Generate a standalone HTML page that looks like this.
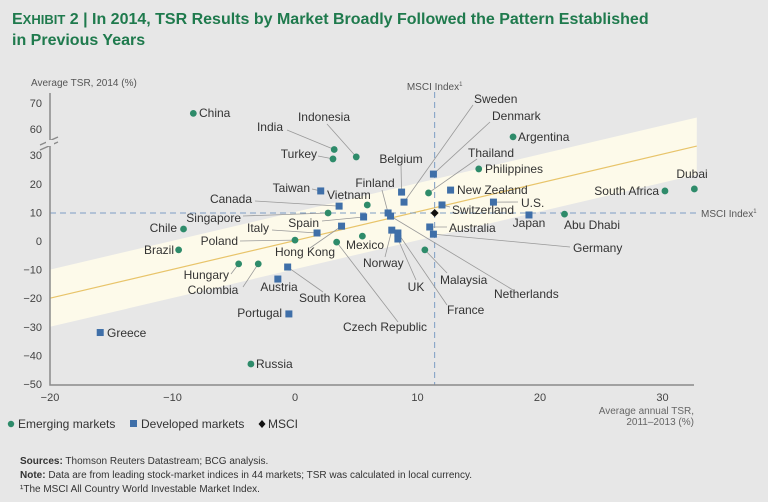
<!DOCTYPE html>
<html><head><meta charset="utf-8">
<style>
html,body{margin:0;padding:0;background:#e7e7e7;}
body{width:768px;height:502px;overflow:hidden;position:relative;font-family:"Liberation Sans",sans-serif;}
svg{position:absolute;left:0;top:0;}
</style></head>
<body>
<svg id="chart" width="768" height="502" viewBox="0 0 768 502">
  <text x="12" y="24" font-size="16" font-weight="bold" fill="#1f7a4d">E<tspan font-size="13">XHIBIT</tspan> 2 | In 2014, TSR Results by Market Broadly Followed the Pattern Established</text>
  <text x="12" y="45" font-size="16" font-weight="bold" fill="#1f7a4d">in Previous Years</text>
  <text x="31" y="86" font-size="10" fill="#555" font-family="Liberation Sans Narrow, Liberation Sans, sans-serif">Average TSR, 2014 (%)</text>
  <text x="694" y="414" font-size="10" fill="#666" text-anchor="end" font-family="Liberation Sans Narrow, Liberation Sans, sans-serif">Average annual TSR,</text>
  <text x="694" y="425" font-size="10" fill="#666" text-anchor="end" font-family="Liberation Sans Narrow, Liberation Sans, sans-serif">2011–2013 (%)</text>
  <g>
    <circle cx="11" cy="424" r="3.2" fill="#2e8b6a"/>
    <text x="18" y="428" font-size="12" fill="#333">Emerging markets</text>
    <rect x="130" y="420" width="7" height="7" fill="#3f6fa8"/>
    <text x="141" y="428" font-size="12" fill="#333">Developed markets</text>
    <path d="M262 420 L265.5 424 L262 428 L258.5 424Z" fill="#111"/>
    <text x="268" y="428" font-size="12" fill="#333">MSCI</text>
  </g>
  <g font-size="10" fill="#333" font-family="Liberation Sans Narrow, Liberation Sans, sans-serif">
    <text x="20" y="464"><tspan font-weight="bold">Sources:</tspan> Thomson Reuters Datastream; BCG analysis.</text>
    <text x="20" y="478"><tspan font-weight="bold">Note:</tspan> Data are from leading stock-market indices in 44 markets; TSR was calculated in local currency.</text>
    <text x="20" y="492">¹The MSCI All Country World Investable Market Index.</text>
  </g>
  <g id="plot"></g>
</svg>
<script>
const markets = ["China","India","Indonesia","Turkey","Taiwan","Canada","Vietnam","Singapore","Spain","Hong Kong","Italy","Poland","Mexico","Czech Republic","Chile","Brazil","Hungary","Colombia","South Korea","Austria","Portugal","Greece","Russia","Denmark","Sweden","Belgium","Thailand","Finland","Netherlands","Norway","UK","France","Malaysia","Australia","Germany","Switzerland","New Zealand","Philippines","Argentina","U.S.","Japan","Abu Dhabi","South Africa","Dubai"];
const tsr2011to2013 = [-8.3,3.2,5.0,3.1,2.1,3.6,5.9,2.7,5.6,3.8,1.8,0.0,5.5,3.4,-9.1,-9.5,-4.6,-3.0,-0.6,-1.4,-0.5,-15.9,-3.6,11.3,8.9,8.7,10.9,7.6,7.8,7.9,8.4,8.4,10.6,11.0,11.3,12.0,12.7,15.0,17.8,16.2,19.1,22.0,30.2,32.6];
const tsr2014 = [66,32,29.4,28.7,17.5,12.2,12.6,9.8,8.4,5.2,2.8,0.3,1.7,-0.4,4.2,-3.1,-8,-8,-9.1,-13.3,-25.5,-32,-43,23.4,13.6,17.1,16.8,9.8,8.7,3.8,0.7,2.8,-3.1,4.9,2.4,12.6,17.8,25.2,36.4,13.6,9.1,9.4,17.5,18.2];
const marketType = ["E","E","E","E","D","D","E","E","D","D","D","E","E","E","E","E","E","E","D","D","D","D","E","D","D","D","E","D","D","D","D","D","E","D","D","D","D","E","E","D","D","E","E","E"];
const msciPoint = [11.4, 9.8];
const trendLine = [[-20,-20],[32.8,33.2]];
const bandHalfWidth = 10;
const xTicks = [-20,-10,0,10,20,30];
const yTicks = [-50,-40,-30,-20,-10,0,10,20,30,60,70];
// label layout (pixel positions): [text x, text y, anchor, leader x, leader y] (leader null = none)
const labelLayout = {
 "China":[199,117,"start"],"India":[283,131,"end",287,130],"Indonesia":[324,121,"middle",327,124],
 "Turkey":[317,158,"end",318,156],"Taiwan":[310,192,"end",312,189],"Canada":[252,203,"end",255,201],
 "Vietnam":[327,199,"start"],"Singapore":[241,222,"end",243,216],"Spain":[319,227,"end",322,221],
 "Hong Kong":[305,256,"middle",310,248],"Italy":[269,232,"end",272,230],"Poland":[238,245,"end",240,241],
 "Mexico":[346,249,"start"],"Czech Republic":[343,331,"start",398,322],"Chile":[177,232,"end"],
 "Brazil":[174,254,"end"],"Hungary":[229,279,"end",231,274],"Colombia":[213,294,"middle",243,287],
 "South Korea":[299,302,"start",323,292],"Austria":[279,291,"middle"],"Portugal":[282,317,"end"],
 "Greece":[107,337,"start"],"Russia":[256,368,"start"],"Denmark":[492,120,"start",490,122],
 "Sweden":[474,103,"start",473,105],"Belgium":[401,163,"middle",401,165],"Thailand":[468,157,"start",477,159],
 "Finland":[375,187,"middle",382,190],"Netherlands":[494,298,"start",513,290],"Norway":[363,267,"start",385,257],
 "UK":[416,291,"middle",416,280],"France":[447,314,"start",447,305],"Malaysia":[440,284,"start",447,273],
 "Australia":[449,232,"start",447,227],"Germany":[573,252,"start",570,247],"Switzerland":[452,214,"start",450,207],
 "New Zealand":[457,194,"start"],"Philippines":[485,173,"start"],"Argentina":[518,141,"start"],
 "U.S.":[521,207,"start",518,202],"Japan":[529,227,"middle"],"Abu Dhabi":[592,229,"middle"],
 "South Africa":[659,195,"end"],"Dubai":[692,178,"middle"]
};
const X0=50, X1=694, Ybot=385;
function xs(v){return 295+12.25*v;}
function ys(v){return v>=45 ? 129-(v-60)*2.6 : 241-2.86*v;}
const NS="http://www.w3.org/2000/svg";
const plot=document.getElementById('plot');
function mk(tag,attrs,parent){const e=document.createElementNS(NS,tag);for(const k in attrs)e.setAttribute(k,attrs[k]);(parent||plot).appendChild(e);return e;}
// band
const [p0,p1]=trendLine;
const band=mk('polygon',{points:`${xs(p0[0])},${ys(p0[1]+bandHalfWidth)} ${xs(p1[0])},${ys(p1[1]+bandHalfWidth)} ${xs(p1[0])},${ys(p1[1]-bandHalfWidth)} ${xs(p0[0])},${ys(p0[1]-bandHalfWidth)}`,fill:'#fdfaea'});


const tl=mk('line',{x1:xs(p0[0]),y1:ys(p0[1]),x2:xs(p1[0]),y2:ys(p1[1]),stroke:'#e8c46a','stroke-width':1.2});


// msci lines
const vl=mk('line',{x1:xs(msciPoint[0]),y1:92,x2:xs(msciPoint[0]),y2:Ybot,stroke:'#7d9dc4','stroke-dasharray':'6,4','stroke-width':1});


const hl=mk('line',{x1:X0,y1:ys(msciPoint[1]),x2:698,y2:ys(msciPoint[1]),stroke:'#7d9dc4','stroke-dasharray':'6,4','stroke-width':1});


const mv=mk('text',{x:xs(msciPoint[0]),y:90,'font-size':10,fill:'#555','text-anchor':'middle','font-family':'Liberation Sans Narrow, Liberation Sans, sans-serif'});
mv.innerHTML='MSCI Index<tspan font-size="6" dy="-4">1</tspan>';


const mh=mk('text',{x:701,y:ys(msciPoint[1])+4,'font-size':10,fill:'#555','font-family':'Liberation Sans Narrow, Liberation Sans, sans-serif'});
mh.innerHTML='MSCI Index<tspan font-size="6" dy="-4">1</tspan>';


// axes
const ya=mk('path',{d:`M${X0} 93 V${Ybot} H${X1}`,fill:'none',stroke:'#8a8a8a','stroke-width':1.5});


const br=mk('path',{d:'M40 145 L58 137 M40 150 L58 142',stroke:'#8a8a8a','stroke-width':1.3});


mk('rect',{x:46,y:140,width:8,height:6,fill:'#e7e7e7'});
yTicks.forEach(t=>{const e=mk('text',{x:42,y:ys(t)+4,'font-size':11,fill:'#444','text-anchor':'end'});e.textContent=String(t).replace('-','−');

});
xTicks.forEach(t=>{const e=mk('text',{x:xs(t),y:Ybot+16,'font-size':11,fill:'#444','text-anchor':'middle'});e.textContent=String(t).replace('-','−');

});
// leaders, points, labels
markets.forEach((m,i)=>{
  const px=xs(tsr2011to2013[i]),py=ys(tsr2014[i]);const L=labelLayout[m];
  if(L&&L.length>3){const ld=mk('line',{x1:L[3],y1:L[4],x2:px,y2:py,stroke:'#999','stroke-width':0.8});
  
  }
});
markets.forEach((m,i)=>{
  const px=xs(tsr2011to2013[i]),py=ys(tsr2014[i]);let e;
  if(marketType[i]==="E"){e=mk('circle',{cx:px,cy:py,r:3.4,fill:'#2e8b6a'});}
  else{e=mk('rect',{x:px-3.5,y:py-3.5,width:7,height:7,fill:'#3f6fa8'});}
  
  
  const L=labelLayout[m];
  const t=mk('text',{x:L[0],y:L[1],'font-size':12,fill:'#333','text-anchor':L[2]});t.textContent=m;
  
  
});
const d=mk('path',{d:`M${xs(msciPoint[0])} ${ys(msciPoint[1])-4} l4 4 l-4 4 l-4 -4z`,fill:'#111'});


</script>
</body></html>
